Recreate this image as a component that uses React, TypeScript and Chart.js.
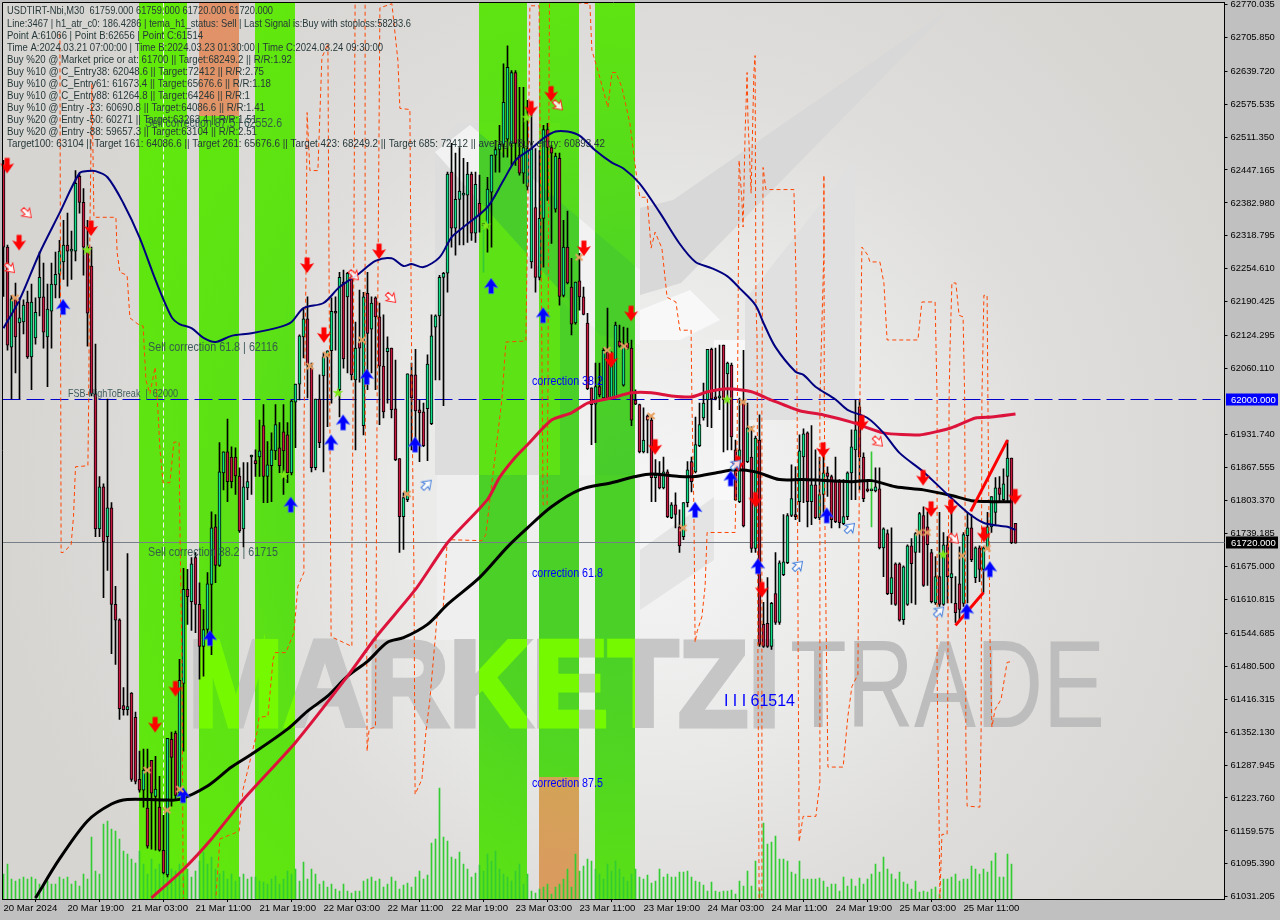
import React, { useEffect, useRef } from "react";
import { Chart, registerables } from "chart.js";

Chart.register(...registerables);

const yMax = 62773.4;
const yMin = 61027;

const highs = [
62466,62301,62203,62227,62198,62194,62211,62225,62198,62287,
62266,62225,62266,62287,62310,62349,62363,62328,62446,62439,
62411,62349,62297,62108,61850,61836,62001,61799,61636,61573,
61439,61700,61429,61391,61315,61319,61319,61297,61305,61266,
61190,61340,61352,61354,61494,61671,61669,61692,61702,61643,
61591,61663,61781,61776,61916,61898,61962,61908,61906,61867,
61877,61877,61892,61902,61960,61990,61918,61935,61990,61955,
61990,61955,61999,62030,62126,62178,62200,62071,62001,62048,
62091,62095,62198,62200,62248,62252,62248,62248,62151,62213,
62209,62248,62200,62200,62188,62165,62122,62100,62077,61885,
61818,62050,62071,62098,61999,61993,62087,62165,62165,62242,
62248,62443,62499,62480,62491,62470,62462,62443,62443,62437,
62343,62433,62476,62505,62534,62654,62689,62641,62641,62608,
62608,62583,62573,62489,62485,62534,62538,62495,62480,62480,
62349,62367,62275,62229,62285,62219,62168,62023,62071,62071,
62100,62178,62093,62151,62145,62141,62139,62116,62019,61991,
61984,61970,61966,61883,61879,61888,61863,61799,61818,61785,
61799,61879,61888,61966,61993,62032,62098,62100,62100,62106,
62106,62073,62071,61921,62003,62096,61993,61947,61929,61970,
61605,61653,61605,61702,61686,61776,61778,61873,61869,61931,
61943,61937,61949,61902,61888,61896,61869,61853,61888,61844,
61844,61859,61941,61999,61999,61896,61844,61898,61867,61867,
61750,61746,61750,61682,61682,61676,61717,61729,61741,61780,
61791,61781,61708,61694,61780,61741,61733,61789,61655,61713,
61741,61780,61776,61713,61715,61713,61780,61811,61848,61850,
61865,61921,61886,61759];

const bodyHighs = [
62452,62297,62196,62196,62159,62184,62190,62190,62170,62238,
62200,62176,62225,62244,62289,62301,62301,62291,62421,62435,
62384,62297,62260,62011,61830,61830,61789,61789,61601,61571,
61404,61402,61428,61381,61260,61278,61204,61297,61241,61206,
61122,61340,61338,61350,61453,61630,61630,61680,61692,61601,
61552,61641,61750,61752,61859,61898,61898,61888,61888,61851,
61830,61840,61892,61881,61900,61949,61873,61902,61951,61906,
61937,61931,61997,62030,62124,62157,62157,62061,62001,62001,
62083,62095,62172,62172,62238,62229,62246,62238,62100,62112,
62200,62207,62188,62198,62161,62065,62100,62100,61982,61885,
61809,62050,62048,62048,61980,61976,62069,62124,62163,62238,
62246,62439,62443,62390,62406,62402,62439,62439,62419,62382,
62341,62410,62476,62487,62497,62579,62647,62637,62637,62476,
62491,62489,62489,62374,62353,62526,62526,62491,62474,62470,
62297,62297,62219,62229,62231,62200,62149,62023,62025,62025,
62096,62093,62067,62145,62114,62108,62110,62100,61999,61990,
61921,61968,61960,61853,61853,61859,61859,61795,61795,61752,
61799,61863,61879,61912,61951,61993,62098,62098,62005,62007,
62106,62071,62067,61902,61902,61999,61945,61888,61925,61921,
61562,61564,61603,61622,61682,61684,61774,61807,61774,61900,
61933,61935,61834,61834,61815,61857,61857,61850,61840,61840,
61772,61857,61908,61941,61986,61888,61826,61826,61830,61826,
61748,61739,61653,61680,61680,61674,61715,61715,61739,61778,
61774,61752,61702,61655,61655,61717,61717,61661,61603,61641,
61737,61750,61750,61711,61711,61711,61752,61811,61828,61828,
61836,61886,61886,61759];

const bodyLows = [
62297,62106,62102,62122,62149,62151,62083,62083,62120,62198,
62131,62122,62172,62223,62244,62268,62289,62289,62289,62384,
62297,62168,62011,61748,61748,61723,61733,61601,61570,61398,
61396,61396,61260,61256,61239,61239,61130,61233,61227,61122,
61078,61074,61303,61229,61233,61447,61616,61606,61601,61519,
61519,61552,61640,61677,61677,61857,61840,61840,61851,61744,
61748,61828,61888,61875,61888,61850,61850,61871,61900,61871,
61900,61857,61857,61995,62030,62122,62067,61867,61867,61916,
62046,62083,62095,62168,62019,62079,62200,62048,62038,62100,
61949,62129,62137,62161,62065,61976,62093,61980,61883,61772,
61772,61805,62003,61978,61974,61910,61982,61953,62141,62163,
62238,62246,62334,62334,62390,62398,62398,62324,62324,62359,
62339,62339,62404,62476,62487,62497,62507,62499,62499,62441,
62441,62415,62268,62238,62238,62353,62491,62480,62371,62201,
62203,62227,62147,62149,62200,62166,62021,61990,61991,62009,
62003,62003,62003,62005,62104,62028,62100,61960,61991,61898,
61898,61960,61848,61848,61828,61828,61772,61770,61776,61715,
61733,61799,61840,61859,61910,61964,61999,62001,62001,62003,
61999,62050,61927,61805,61801,61754,61879,61710,61710,61523,
61519,61519,61519,61566,61566,61659,61682,61774,61772,61801,
61888,61801,61801,61770,61770,61815,61850,61766,61762,61760,
61758,61772,61857,61902,61888,61807,61822,61822,61822,61711,
61711,61622,61622,61601,61570,61571,61601,61680,61702,61739,
61638,61717,61606,61604,61601,61601,61655,61653,61585,61591,
61603,61735,61688,61653,61669,61669,61711,61752,61780,61815,
61805,61850,61721,61720];

const lows = [
62201,62096,62001,62052,62001,62128,62080,62019,62108,62163,
62100,62025,62100,62198,62198,62234,62221,62234,62270,62363,
62242,62104,62007,61733,61733,61614,61667,61505,61484,61377,
61385,61385,61256,61251,61235,61206,61126,61124,61122,61120,
61076,61070,61208,61221,61229,61315,61562,61550,61546,61455,
61461,61533,61503,61643,61675,61824,61801,61828,61815,61741,
61713,61805,61815,61850,61850,61799,61799,61801,61883,61857,
61815,61838,61853,61906,61999,62081,62003,61859,61863,61906,
61859,61947,61993,62096,61966,62061,62052,62038,61902,62034,
61931,62019,62052,62019,61951,61964,61993,61964,61881,61702,
61708,61801,61902,61921,61879,61908,61881,61951,62038,62038,
61988,62209,62297,62281,62301,62301,62306,62310,62306,62326,
62248,62287,62297,62443,62443,62472,62472,62456,62456,62437,
62421,62408,62256,62209,62233,62258,62388,62304,62365,62184,
62200,62225,62126,62147,62174,62165,62019,61912,61916,62005,
62001,62001,62001,62003,62102,62026,62098,61949,61990,61896,
61896,61896,61801,61801,61826,61826,61770,61768,61750,61702,
61727,61791,61820,61857,61908,61960,61947,61945,61999,61980,
61898,61902,61902,61803,61799,61752,61877,61702,61702,61519,
61517,61517,61513,61562,61562,61657,61680,61772,61766,61762,
61799,61752,61756,61768,61766,61780,61811,61750,61760,61750,
61756,61766,61805,61805,61824,61801,61820,61752,61820,61709,
61655,61620,61601,61599,61568,61562,61599,61604,61601,61702,
61636,61638,61604,61601,61597,61599,61604,61604,61566,61571,
61597,61604,61684,61643,61645,61624,61708,61741,61756,61801,
61803,61801,61719,61720];

const sides =
  "RRGRGGRGGG" + "RGGGGGRGGR" + "RRRRGRGRRR" + "RGRRRGRRGR" + "RGRRGGRGRR" +
  "GGGRGGRRRR" + "GGGRGRGGGR" + "RRGGGGRRGR" + "GGGRGRGRGR" + "GRGRRRGRRR" +
  "GGRRRRGGGG" + "GGRGGGGRGR" + "GGGGGGGGRR" + "GGGRGGRRGR" + "GRRGRRRRGR" +
  "GRGGRGRRRR" + "GRRGRGRGRR" + "GGRGGGGRRG" + "RGRRGRGRGR" + "RRGRGGGGRG" +
  "GRGRGGRRRR" + "GGGGRRRGGR" + "GRGRRGGRGG" + "RRRGRGRGRR" + "GGRGRGGGGR" + "GGRR";

const spikeBars = [120, 217];

const volumes = [
25,35,20,18,20,22,20,22,20,15,15,18,15,15,22,20,22,15,18,13,
25,20,62,28,25,75,78,70,68,60,48,45,40,36,48,35,25,40,30,35,
45,32,30,28,35,25,30,22,28,38,47,35,42,30,25,28,20,25,18,22,
25,20,22,22,18,17,15,20,23,15,20,28,25,30,18,37,20,30,25,15,
18,12,15,10,8,15,8,6,8,8,18,20,22,18,20,12,15,22,18,10,
14,16,12,22,28,20,24,56,60,111,62,58,42,40,47,35,30,22,26,34,
28,45,38,48,30,25,22,18,28,35,15,25,8,6,10,12,15,5,12,15,
20,30,12,45,28,33,40,38,30,25,20,35,28,38,30,22,18,25,30,22,
20,24,16,18,30,22,25,22,22,27,27,28,22,18,17,14,8,17,8,7,
8,8,9,5,18,13,28,13,38,10,76,55,57,63,40,40,38,27,25,38,
20,20,20,20,21,18,12,15,15,8,22,13,20,13,21,15,20,25,35,27,
42,30,25,20,27,17,15,10,18,7,8,7,10,12,5,20,20,22,25,18,
20,20,33,30,25,30,27,38,46,22,22,45,35];

const navyX = [0,4,9,14,19,21,23,26,30,34,38,42,44,47,50,53,57,62,69,72,75,80,84,89,93,97,100,102,105,109,112,115,121,125,128,132,135,138,141,144,148,152,155,159,164,169,173,177,181,184,188,190,193,198,200,203,208,211,216,220,224,230,236,241,245,249,251,253];
const navyY = [62139,62194,62285,62363,62441,62445,62445,62433,62382,62316,62233,62161,62147,62139,62120,62112,62124,62129,62141,62151,62178,62188,62219,62246,62270,62275,62260,62264,62258,62277,62316,62336,62375,62427,62466,62489,62509,62522,62522,62514,62485,62462,62450,62421,62365,62304,62268,62256,62240,62217,62184,62149,62102,62054,62048,62025,62000,61980,61964,61935,61896,61859,61815,61780,61760,61754,61752,61746];

const crimsonX = [37,45,52,60,73,86,93,103,111,121,124,128,131,137,142,146,152,157,162,167,172,176,181,187,192,199,205,212,220,229,237,243,247,253];
const crimsonY = [61029,61085,61144,61221,61332,61461,61536,61630,61721,61805,61848,61888,61912,61960,61974,61993,62003,62013,62013,62007,62005,62015,62021,62015,61999,61978,61970,61956,61935,61931,61945,61964,61966,61972];

const blackX = [8,14,21,27,31,40,44,51,57,62,71,76,81,86,91,96,100,106,111,119,126,131,137,144,152,158,162,169,173,178,183,188,194,200,212,217,223,230,237,242,247,252];
const blackY = [61029,61105,61179,61212,61221,61220,61221,61247,61284,61309,61358,61393,61422,61461,61490,61527,61536,61562,61601,61653,61713,61750,61791,61824,61838,61850,61855,61850,61850,61857,61863,61859,61844,61844,61840,61842,61830,61824,61813,61803,61801,61801];

const stepX = [14.1,14.4,14.9,16.9,17.5,18,21.1,21.3,21.6,22.1,22.4,22.6,28.1,28.4,29.1,30.9,31.6,33.6,34.9,35.6,36.6,37.9,38.6,39.1,39.9,41.6,42.6,43.9,44.1,44.6,44.9,45,45.5,53,53.1,54.1,58.9,59.9,63.4,63.9,66.1,67.4,67.9,70.6,72.6,73.6,75.1,75.1,75.6,75.9,76.6,78.6,79.6,81.1,81.4,81.9,87.1,87.1,87.4,87.9,88.5,90,90.4,90.4,90.7,90.9,91.4,93,93.4,94.1,97.1,98.6,99.1,101.6,102.1,102.6,102.9,104.6,105.6,106.6,108.4,109.9,110.9,111.4,119.6,120.6,121.6,124.6,125.6,130.6,131.1,131.6,133.9,134.9,135.9,136.1,136.4,136.5,146.6,147.1,148.6,151.1,152.1,153.1,154.6,156.6,158.4,159.1,160.9,161.9,162.9,164.6,165.9,168.1,169.1,171.9,172.1,172.6,172.9,173.4,174.6,175.4,175.9,182.9,183.4,183.6,183.9,184.6,184.9,185.4,185.9,186.1,186.9,187.6,187.9,188.1,188.4,188.6,188.9,189.6,189.6,189.9,190.6,197.6,198.1,198.4,198.6,198.9,199.9,203.1,204.1,204.1,205.1,205.1,205.2,205.4,206.1,209.9,211.1,212.1,213.6,214.1,214.6,216.1,216.6,219.1,220.1,220.9,228.6,229.6,232.9,233.4,233.4,233.9,234.1,234.6,235.9,236.4,236.6,237.1,238.1,238.9,239.9,240.3,240.6,240.9,244.1,244.4,244.6,245.1,245.9,246.1,246.6,247.1,247.9,249.4,250.9,252.4];
const stepY = [62713,61702,61702,61717,61772,61869,61871,62000,62332,62616,62466,62355,62355,62287,62248,62242,62159,62147,62143,62038,62011,62063,61980,61904,61838,61838,61917,61917,61752,61501,61074,61029,61000,61000,61029,61144,61159,61241,61352,61381,61383,61494,61507,61507,61546,61636,61663,61935,62227,62559,62446,62446,62666,62693,62227,61538,61519,61694,62000,62771,62800,62800,62771,62000,61741,61315,61358,61362,62000,62763,62771,62660,62567,62565,62000,61675,61231,61260,61352,61416,61577,61591,61721,61727,61725,61737,61805,62000,62112,62114,62388,62767,62767,61795,61795,62000,62647,62777,62771,62680,62641,62569,62637,62637,62608,62538,62427,62394,62394,62295,62326,62295,62199,62190,62135,62135,62000,61785,61527,61548,61577,61636,61741,61741,61921,62116,62466,62388,62336,62518,62637,62549,62402,62637,62670,62194,62116,61519,61029,61029,62000,62452,62409,62409,62248,62000,61610,61138,61188,61188,61255,62000,62291,62437,62005,61721,61284,61284,61383,61441,61464,62000,62297,62281,62268,62268,62227,62116,62116,62190,62190,62001,61468,61177,61029,61153,61153,62000,62091,62227,62227,62164,62161,62000,61324,61208,61206,61352,62000,62203,62203,62005,61546,61362,61396,61416,61488,61490];

const trendX = [238, 245];
const trendY = [61560, 61624];
const trend2X = [241.8, 251];
const trend2Y = [61782, 61921];

const redArrowX = [0.9,3.9,21.9,37.9,43,75.9,80.1,93.9,131.9,136.9,145.1,151.9,156.9,162.9,183.6,188,189.6,204.9,214.6,229.9,231.9,236.9,245.1,252.9];
const redArrowY = [62456,62306,62334,61367,61437,62262,62126,62289,62567,62596,62295,62077,62168,61908,61875,61805,61630,61902,61955,61848,61787,61791,61737,61811];
const blueArrowX = [14.9,44.9,51.6,71.8,81.9,84.9,90.8,102.9,121.9,134.9,172.9,181.8,188.6,205.8,240.8,246.6];
const blueArrowY = [62180,61229,61535,61795,61916,61955,62044,61912,62221,62164,61785,61846,61675,61774,61587,61669];
const hollowRedX = [1.6,5.8,87.6,96.9,138.6,218.6,237.6];
const hollowRedY = [62256,62363,62242,62198,62573,61918,61729];
const hollowBlueX = [105.8,183.1,198.6,211.6,233.9];
const hollowBlueY = [61834,61873,61676,61750,61587];
const crossX = [2.9,35.9,40.9,44.1,76.6,80.8,89.6,100.9,143.9,150.9,155.1,161.9,169.9,184.9,186.9,228.9,230.9,239.6,245.9];
const crossY = [62198,61278,61200,61241,62065,62087,62116,61816,62277,62096,62104,61968,61750,61995,61943,61741,61741,61696,61710];
const starX = [20.9,70.1,83.6,120.6,130.8,180.9,234.9];
const starY = [62291,61853,62013,62339,62549,62000,61698];

const bandFrom = [33.9,48.9,62.9,118.9,133.9,147.9];
const bandTo = [45.9,58.9,72.9,130.9,143.9,157.9];
const orangeBand = [1, 4];
const orangeHigh = [yMax, 61264.8];
const orangeLow = [62552.6, yMin];

const xTickBars = [0,16,32,48,64,80,96,112,128,144,160,176,192,208,224,240];
const xTickLabels = ["20 Mar 2024","20 Mar 19:00","21 Mar 03:00","21 Mar 11:00","21 Mar 19:00","22 Mar 03:00","22 Mar 11:00","22 Mar 19:00","23 Mar 03:00","23 Mar 11:00","23 Mar 19:00","24 Mar 03:00","24 Mar 11:00","24 Mar 19:00","25 Mar 03:00","25 Mar 11:00"];
const yTicks = [62770.035,62705.85,62639.72,62575.535,62511.35,62447.165,62382.98,62318.795,62254.61,62190.425,62124.295,62060.11,61931.74,61867.555,61803.37,61739.185,61675,61610.815,61544.685,61480.5,61416.315,61352.13,61287.945,61223.76,61159.575,61095.39,61031.205];

const headerLines = [
  "USDTIRT-Nbi,M30  61759.000 61759.000 61720.000 61720.000",
  "Line:3467 | h1_atr_c0: 186.4286 | tema_h1_status: Sell | Last Signal is:Buy with stoploss:58283.6",
  "Point A:61066 | Point B:62656 | Point C:61514",
  "Time A:2024.03.21 07:00:00 | Time B:2024.03.23 01:30:00 | Time C:2024.03.24 09:30:00",
  "Buy %20 @ Market price or at: 61700 || Target:68249.2 || R/R:1.92",
  "Buy %10 @ C_Entry38: 62048.6 || Target:72412 || R/R:2.75",
  "Buy %10 @ C_Entry61: 61673.4 || Target:65676.6 || R/R:1.18",
  "Buy %10 @ C_Entry88: 61264.8 || Target:64246 || R/R:1",
  "Buy %10 @ Entry -23: 60690.8 || Target:64086.6 || R/R:1.41",
  "Buy %20 @ Entry -50: 60271 || Target:63263.4 || R/R:1.51",
  "Buy %20 @ Entry -88: 59657.3 || Target:63104 || R/R:2.51",
  "Target100: 63104 || Target 161: 64086.6 || Target 261: 65676.6 || Target 423: 68249.2 || Target 685: 72412 || average Buy entry: 60893.42",
];
const headerWidths = [266, 404, 196, 376, 285, 257, 264, 243, 258, 250, 250, 598];

const FONT = '"Liberation Sans", Arial, sans-serif';

function pic(w: number, h: number, draw: (c: CanvasRenderingContext2D) => void) {
  const el = document.createElement("canvas");
  el.width = w;
  el.height = h;
  draw(el.getContext("2d") as CanvasRenderingContext2D);
  return el;
}

function arrowPath(c: CanvasRenderingContext2D) {
  c.beginPath();
  c.moveTo(-2.5, -7.5);
  c.lineTo(2.5, -7.5);
  c.lineTo(2.5, -0.5);
  c.lineTo(7, -2);
  c.lineTo(0, 8);
  c.lineTo(-7, -2);
  c.lineTo(-2.5, -0.5);
  c.closePath();
}

const redArrow = () => pic(16, 18, (c) => {
  c.translate(8, 9);
  arrowPath(c);
  c.fillStyle = "#FF0000";
  c.fill();
});
const blueArrow = () => pic(16, 18, (c) => {
  c.translate(8, 9);
  c.scale(1, -1);
  arrowPath(c);
  c.fillStyle = "#0000FF";
  c.fill();
  c.strokeStyle = "rgba(90,120,255,0.5)";
  c.stroke();
});
const hollow = (color: string, angle: number) => pic(16, 16, (c) => {
  c.translate(8, 8);
  c.rotate(angle);
  c.scale(0.8, 0.8);
  arrowPath(c);
  c.fillStyle = "rgba(255,255,255,0.85)";
  c.fill();
  c.strokeStyle = color;
  c.lineWidth = 1.2;
  c.stroke();
});
const crossPic = () => pic(10, 10, (c) => {
  c.strokeStyle = "#E8A060";
  c.lineWidth = 2;
  c.beginPath();
  c.moveTo(1.5, 2);
  c.lineTo(8.5, 8);
  c.moveTo(8.5, 2);
  c.lineTo(1.5, 8);
  c.stroke();
});
const starPic = () => pic(12, 12, (c) => {
  c.translate(6, 6);
  c.fillStyle = "#7CE817";
  c.beginPath();
  for (let k = 0; k < 10; k++) {
    const r = k % 2 ? 2.2 : 5.8;
    const a = -Math.PI / 2 + (k * Math.PI) / 5;
    c.lineTo(r * Math.cos(a), r * Math.sin(a));
  }
  c.closePath();
  c.fill();
});

function poly(c: CanvasRenderingContext2D, color: string, pts: number[][]) {
  c.fillStyle = color;
  c.beginPath();
  pts.forEach((p) => c.lineTo(p[0], p[1]));
  c.closePath();
  c.fill();
}

function fitText(c: CanvasRenderingContext2D, text: string, font: string, x: number, y: number, w: number, stroke = 0) {
  c.save();
  c.font = font;
  const m = c.measureText(text).width;
  c.translate(x, y);
  c.scale(w / m, 1);
  if (stroke > 0) {
    c.lineWidth = stroke;
    c.lineJoin = "miter";
    c.strokeStyle = c.fillStyle;
    c.strokeText(text, 0, 0);
  }
  c.fillText(text, 0, 0);
  c.restore();
}

// The bands invert the backdrop: a lighter backdrop gives a darker band colour.
const greenShade = (d: Uint8ClampedArray, i: number) => {
  d[i] = 0x13a - d[i];
  d[i + 1] = 0x1bf - d[i + 1];
  d[i + 2] = Math.max(0, d[i + 2] - 0xc7);
};
const orangeShade = (d: Uint8ClampedArray, i: number) => {
  d[i] = 0x1ba - d[i];
  d[i + 1] = d[i + 1] - 0x44;
  d[i + 2] = 0x13c - d[i + 2];
};

function shadeRect(c: CanvasRenderingContext2D, x0: number, y0: number, x1: number, y1: number, shade: (d: Uint8ClampedArray, i: number) => void) {
  const x = Math.round(x0), y = Math.round(y0);
  const w = Math.round(x1) - x, h = Math.round(y1) - y;
  if (w <= 0 || h <= 0) return;
  const img = c.getImageData(x, y, w, h);
  for (let i = 0; i < img.data.length; i += 4) shade(img.data, i);
  c.putImageData(img, x, y);
}

const scenery = {
  id: "scenery",
  beforeDraw(chart: any) {
    const c: CanvasRenderingContext2D = chart.ctx;
    const a = chart.chartArea;
    c.save();
    c.fillStyle = "#C0C0C0";
    c.fillRect(0, 0, 1280, 920);
    c.beginPath();
    c.rect(a.left, a.top, a.right - a.left, a.bottom - a.top);
    c.clip();
    const g = c.createRadialGradient(650, 520, 40, 650, 480, 660);
    g.addColorStop(0, "#F4F4F4");
    g.addColorStop(0.35, "#E9E9E8");
    g.addColorStop(0.6, "#DFDEDC");
    g.addColorStop(1, "#D7D5D2");
    c.fillStyle = g;
    c.fillRect(a.left, a.top, a.right - a.left, a.bottom - a.top);
    poly(c, "#EFEFEF", [[437, 475], [640, 475], [640, 640], [437, 640]]);
    poly(c, "#DDDDDD", [[435, 152], [457, 123], [560, 123], [560, 475], [435, 475]]);
    poly(c, "#F2F2F2", [[435, 152], [470, 125], [640, 270], [640, 345], [600, 335]]);
    poly(c, "#EFEFEF", [[560, 300], [579, 320], [579, 475], [560, 475]]);
    poly(c, "#D8D8D8", [[952, 7], [673, 200], [640, 208], [640, 295], [681, 283]]);
    poly(c, "#F8F8F8", [[640, 310], [690, 290], [720, 320], [680, 340], [640, 340]]);
    poly(c, "#E0E0E0", [[855, 160], [855, 420], [745, 420], [745, 300]]);
    poly(c, "#F8F8F8", [[714, 340], [745, 340], [745, 500], [714, 500]]);
    poly(c, "#E4E4E4", [[640, 550], [714, 497], [714, 560], [640, 610]]);
    c.fillStyle = "#C6C6C6";
    fitText(c, "MARKETZI", `bold 122px ${FONT}`, 188, 726, 592, 5);
    c.fillStyle = "#BDBDBD";
    fitText(c, "TRADE", `125px ${FONT}`, 790, 727, 315);
    c.restore();
  },
  beforeDatasetsDraw(chart: any) {
    const c: CanvasRenderingContext2D = chart.ctx;
    const x = chart.scales.x;
    const y = chart.scales.y;
    const a = chart.chartArea;
    bandFrom.forEach((from, i) => {
      const x0 = x.getPixelForValue(from);
      const x1 = x.getPixelForValue(bandTo[i]);
      const o = orangeBand.indexOf(i);
      if (o < 0) {
        shadeRect(c, x0, a.top, x1, a.bottom, greenShade);
      } else {
        const t = y.getPixelForValue(orangeHigh[o]);
        const b = y.getPixelForValue(orangeLow[o]);
        shadeRect(c, x0, t, x1, b, orangeShade);
        if (t > a.top + 1) shadeRect(c, x0, a.top, x1, t, greenShade);
        if (b < a.bottom - 1) shadeRect(c, x0, b, x1, a.bottom, greenShade);
      }
    });
    c.save();
    c.lineWidth = 1;
    c.strokeStyle = "#F4F4F4";
    c.setLineDash([5, 3]);
    const vx = Math.round(x.getPixelForValue(40)) - 0.5;
    c.beginPath();
    c.moveTo(vx, a.top);
    c.lineTo(vx, a.bottom);
    c.stroke();
    const y62 = Math.round(y.getPixelForValue(62000)) - 0.5;
    c.strokeStyle = "#0000CD";
    c.setLineDash([18, 6]);
    c.beginPath();
    c.moveTo(a.left, y62);
    c.lineTo(a.right, y62);
    c.stroke();
    const y61 = Math.round(y.getPixelForValue(61720)) - 0.5;
    c.strokeStyle = "#778088";
    c.setLineDash([]);
    c.beginPath();
    c.moveTo(a.left, y61);
    c.lineTo(a.right, y61);
    c.stroke();
    c.restore();
  },
  afterDatasetsDraw(chart: any) {
    const c: CanvasRenderingContext2D = chart.ctx;
    const a = chart.chartArea;
    const y = chart.scales.y;
    c.save();
    c.textBaseline = "middle";
    c.fillStyle = "#26383A";
    headerLines.forEach((t, i) => {
      const yy = i === 0 ? 10.5 : 23.5 + (i - 1) * 12;
      fitText(c, t, `11.5px ${FONT}`, 7, yy, headerWidths[i]);
    });
    c.fillStyle = "rgba(47,79,79,0.9)";
    const f = `13px ${FONT}`;
    fitText(c, "Sell correction 87.5 | 62552.6", f, 145, 123, 137);
    fitText(c, "Sell correction 61.8 | 62116", f, 148, 347, 130);
    fitText(c, "Sell correction 38.2 | 61715", f, 148, 552, 130);
    fitText(c, "FSB-HighToBreak  |  62000", `11.5px ${FONT}`, 68, 394, 110);
    c.fillStyle = "#0000FF";
    fitText(c, "correction 38.2", f, 532, 381, 71);
    fitText(c, "correction 61.8", f, 532, 573, 71);
    fitText(c, "correction 87.5", f, 532, 783, 71);
    fitText(c, "I I I 61514", `16px ${FONT}`, 724, 702, 71);
    c.strokeStyle = "#000000";
    c.lineWidth = 1;
    c.beginPath();
    c.moveTo(a.left, a.bottom);
    c.lineTo(a.left, a.top);
    c.lineTo(a.right, a.top);
    c.stroke();
    const box = (v: number, bg: string) => {
      const p = Math.round(y.getPixelForValue(v)) - 0.5;
      c.fillStyle = bg;
      c.fillRect(1226, p - 6, 52, 12);
      c.fillStyle = "#FFFFFF";
      c.font = `9.5px ${FONT}`;
      c.fillText(v.toFixed(3), 1231, p + 0.5);
    };
    box(62000, "#0000FF");
    box(61720, "#000000");
    c.restore();
  },
};

const series = (xs: number[], ys: number[]) => xs.map((v, i) => ({ x: v, y: ys[i] }));

export default function App() {
  const ref = useRef<HTMLCanvasElement | null>(null);
  useEffect(() => {
    const wicks = highs.map((h, i) => ({ x: i, y: [lows[i], h] }));
    const bodies = highs.map((_, i) => ({ x: i, y: [bodyLows[i], bodyHighs[i]] }));
    const bars = volumes.map((v, i) => ({ x: i, y: v }));
    const line = (xs: number[], ys: number[], color: string, width: number, order: number, extra: any = {}) => ({
      type: "line",
      data: series(xs, ys),
      borderColor: color,
      borderWidth: width,
      pointRadius: 0,
      fill: false,
      order,
      yAxisID: "y",
      ...extra,
    });
    const marks = (xs: number[], ys: number[], style: HTMLCanvasElement) => ({
      type: "line",
      data: series(xs, ys),
      showLine: false,
      pointStyle: style,
      pointRadius: 7,
      order: 0,
      yAxisID: "y",
      clip: false,
    });
    const chart = new Chart(ref.current as HTMLCanvasElement, {
      type: "bar",
      plugins: [scenery],
      data: {
        datasets: [
          {
            data: bars,
            yAxisID: "vol",
            backgroundColor: "#33CC33",
            barThickness: 1,
            grouped: false,
            order: 20,
          },
          {
            data: wicks,
            yAxisID: "y",
            backgroundColor: highs.map((_, i) => (spikeBars.includes(i) ? "#35C935" : "#000000")),
            barThickness: 1,
            grouped: false,
            order: 12,
          },
          {
            data: bodies,
            yAxisID: "y",
            backgroundColor: highs.map((_, i) => (sides[i] === "G" ? "#10E088" : "#C81A40")),
            borderColor: "#000000",
            borderWidth: 1,
            borderSkipped: false,
            barThickness: 3,
            grouped: false,
            minBarLength: 2,
            order: 11,
          },
          line(stepX, stepY, "#FF4500", 1, 6, { borderDash: [4, 3] }),
          line(blackX, blackY, "#000000", 3, 5, { tension: 0.3 }),
          line(crimsonX, crimsonY, "#DC143C", 3, 4, { tension: 0.2 }),
          line(navyX, navyY, "#000080", 2, 3, { tension: 0.3 }),
          line(trendX, trendY, "#FF0000", 3, 2),
          line(trend2X, trend2Y, "#FF0000", 3, 2),
          marks(crossX, crossY, crossPic()),
          marks(starX, starY, starPic()),
          marks(hollowRedX, hollowRedY, hollow("#FF2020", -Math.PI / 4)),
          marks(hollowBlueX, hollowBlueY, hollow("#3C78D8", (-3 * Math.PI) / 4)),
          marks(redArrowX, redArrowY, redArrow()),
          marks(blueArrowX, blueArrowY, blueArrow()),
        ] as any,
      },
      options: {
        animation: false,
        responsive: false,
        devicePixelRatio: 1,
        events: [],
        layout: { autoPadding: false, padding: { left: 2.5, top: 2.5, right: 0, bottom: 0 } },
        plugins: { legend: { display: false }, tooltip: { enabled: false } },
        scales: {
          x: {
            type: "linear",
            min: -0.25,
            max: 305.25,
            offset: false,
            afterBuildTicks: (s: any) => {
              s.ticks = xTickBars.map((v) => ({ value: v }));
            },
            afterFit: (s: any) => {
              s.height = 21;
              s.paddingLeft = 0;
              s.paddingRight = 0;
            },
            grid: { display: true, drawOnChartArea: false, drawTicks: true, tickLength: 3, color: "#000000" },
            border: { color: "#000000" },
            ticks: {
              autoSkip: false,
              maxRotation: 0,
              minRotation: 0,
              align: "start",
              padding: 1,
              color: "#000000",
              font: { family: FONT, size: 9.6 },
              callback: (v: any) => xTickLabels[xTickBars.indexOf(Number(v))] ?? "",
            },
          },
          y: {
            position: "right",
            min: yMin,
            max: yMax,
            afterBuildTicks: (s: any) => {
              s.ticks = yTicks.map((v) => ({ value: v }));
            },
            afterFit: (s: any) => {
              s.width = 55.5;
              s.paddingTop = 0;
              s.paddingBottom = 0;
            },
            grid: { display: true, drawOnChartArea: false, drawTicks: true, tickLength: 3, color: "#000000" },
            border: { color: "#000000" },
            ticks: {
              autoSkip: false,
              padding: 3,
              color: "#000000",
              font: { family: FONT, size: 9.4 },
              callback: (v: any) => Number(v).toFixed(3),
            },
          },
          vol: { display: false, min: 0, max: 896.5 },
        },
      } as any,
    });
    return () => chart.destroy();
  }, []);
  return (
    <div style={{ position: "absolute", left: 0, top: 0, width: 1280, height: 920, overflow: "hidden", background: "#C0C0C0" }}>
      <canvas ref={ref} width={1280} height={920} style={{ display: "block" }} />
    </div>
  );
}
